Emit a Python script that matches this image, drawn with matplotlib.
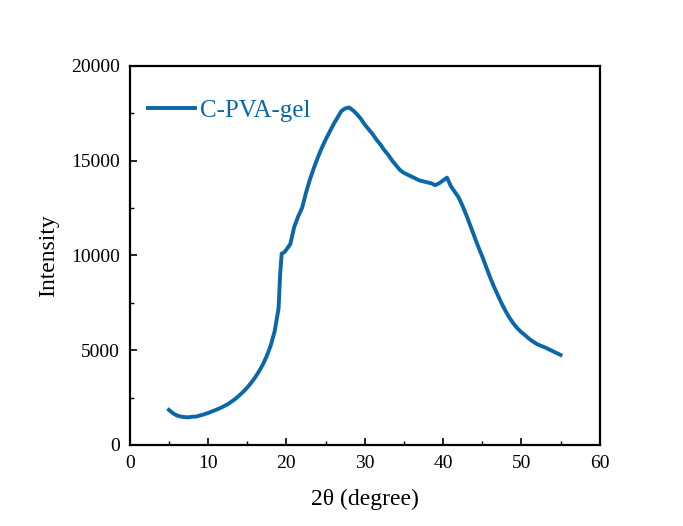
import matplotlib
matplotlib.use("Agg")
import matplotlib.pyplot as plt
from matplotlib.ticker import MultipleLocator

plt.rcParams['font.family'] = ['Liberation Serif', 'DejaVu Serif']

two_theta = [5.0, 5.5, 6.0, 6.5, 7.0, 7.5, 8.0, 8.5, 9.0, 9.5,
             10.0, 10.5, 11.0, 11.5, 12.0, 12.5, 13.0, 13.5, 14.0, 14.5,
             15.0, 15.5, 16.0, 16.5, 17.0, 17.5, 18.0, 18.5, 19.0, 19.2,
             19.4, 19.7, 20.0, 20.5, 21.0, 21.5, 22.0, 22.5, 23.0, 23.5,
             24.0, 24.5, 25.0, 25.5, 26.0, 26.5, 27.0, 27.5, 28.0, 28.5,
             29.0, 29.5, 30.0, 30.5, 31.0, 31.5, 32.0, 32.5, 33.0, 33.5,
             34.0, 34.5, 35.0, 35.5, 36.0, 36.5, 37.0, 37.5, 38.0, 38.5,
             39.0, 39.5, 40.0, 40.5, 41.0, 41.5, 42.0, 42.5, 43.0, 43.5,
             44.0, 44.5, 45.0, 45.5, 46.0, 46.5, 47.0, 47.5, 48.0, 48.5,
             49.0, 49.5, 50.0, 50.5, 51.0, 51.5, 52.0, 52.5, 53.0, 53.5,
             54.0, 54.5, 55.0]
intensity = [1850, 1680, 1560, 1500, 1470, 1460, 1490, 1500, 1560, 1620,
             1690, 1770, 1850, 1940, 2040, 2150, 2290, 2440, 2620, 2810,
             3030, 3280, 3560, 3880, 4250, 4700, 5250, 6000, 7200, 9000,
             10100, 10150, 10300, 10600, 11500, 12050, 12500, 13300, 14000, 14600,
             15150, 15650, 16100, 16500, 16900, 17250, 17600, 17750, 17800, 17650,
             17450, 17200, 16900, 16650, 16400, 16100, 15850, 15550, 15300, 15000,
             14750, 14500, 14350, 14250, 14150, 14050, 13950, 13900, 13850, 13800,
             13700, 13800, 13950, 14100, 13650, 13350, 13050, 12600, 12100, 11550,
             11000, 10450, 9950, 9400, 8850, 8350, 7900, 7450, 7050, 6700,
             6400, 6150, 5950, 5780, 5600, 5450, 5320, 5230, 5150, 5050,
             4950, 4850, 4750]

fig = plt.figure(figsize=(6.83, 5.26), dpi=100)
ax = fig.add_axes([0.190, 0.154, 0.688, 0.721])

ax.plot(two_theta, intensity, color='#0b67a8', linewidth=2.8, label='C-PVA-gel')

ax.set_xlim(0, 60)
ax.set_ylim(0, 20000)
ax.xaxis.set_major_locator(MultipleLocator(10))
ax.xaxis.set_minor_locator(MultipleLocator(5))
ax.yaxis.set_major_locator(MultipleLocator(5000))
ax.yaxis.set_minor_locator(MultipleLocator(2500))
ax.tick_params(which='both', direction='in', top=False, right=False, labelsize=14)
ax.tick_params(which='major', length=5, width=1.2, pad=7)
ax.tick_params(which='minor', length=3, width=1.0)
for s in ax.spines.values():
    s.set_linewidth(1.6)

ax.set_xlabel('2θ (degree)', fontsize=17, labelpad=12)
ax.set_ylabel('Intensity', fontsize=17, labelpad=9)

leg = ax.legend(loc='upper left', frameon=False, fontsize=18,
                handlelength=1.9, handletextpad=0.2, bbox_to_anchor=(-0.01, 0.97))
for t in leg.get_texts():
    t.set_color('#0b67a8')

fig.savefig('out.png', dpi=100)
